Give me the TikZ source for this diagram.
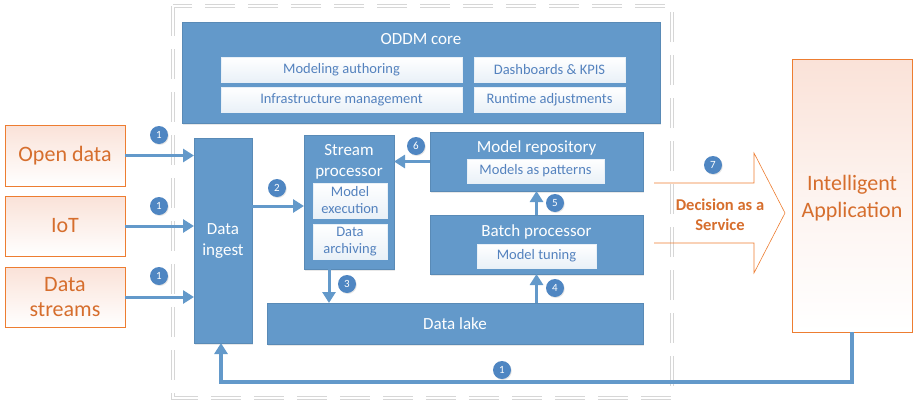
\documentclass[tikz,border=0pt]{standalone}
\usepackage{fontspec}
\setmainfont{Carlito}
\usetikzlibrary{positioning}
\usetikzlibrary{arrows.meta}
\usetikzlibrary{shadows}
\definecolor{myblue}{RGB}{99,153,202}
\definecolor{mybadge}{RGB}{79,134,194}
\definecolor{mytextblue}{RGB}{84,130,190}
\definecolor{myorange}{RGB}{237,125,49}
\definecolor{mytextorange}{RGB}{214,110,45}
\definecolor{mypink}{RGB}{250,226,216}
\definecolor{mygray}{RGB}{214,214,214}
\tikzset{
  >=latex,
  box/.style={anchor=north west,inner sep=0,outer sep=0},
  block/.style={box,fill=myblue,draw=myblue!90!black,line width=0.4pt,text=white,
    drop shadow={shadow xshift=1pt,shadow yshift=-1.5pt,opacity=0.18}},
  sub/.style={box,draw=white!85!myblue,line width=0.4pt,top color=white,bottom color=myblue!14,
    text=mytextblue,align=center,font=\fontsize{14.5}{17}\selectfont},
  source/.style={box,draw=myorange,line width=0.6pt,top color=mypink,bottom color=white,
    text=mytextorange,align=center,font=\fontsize{22}{25}\selectfont},
  title/.style={text=white,align=center,inner sep=0,font=\fontsize{17}{21}\selectfont},
  badge/.style={circle,fill=mybadge,text=white,minimum size=18pt,inner sep=0,
    font=\fontsize{11}{11}\selectfont,drop shadow={shadow xshift=0.8pt,shadow yshift=-1pt,opacity=0.2}},
  flow/.style={-{Triangle[length=11pt,width=13pt]},line width=3pt,myblue},
  frame/.style={draw=mygray,line width=0.7pt,double=white,double distance=2.2pt,
    dash pattern=on 30pt off 13pt}
}

\begin{document}
\begin{tikzpicture}[x=1pt,y=-1pt]
    \useasboundingbox (0,0) rectangle (913,402);

    % ------- frame -------
    \draw[frame] (173,6) rectangle (672,398);

    % ------- ODDM core -------
    \node[block,minimum width=478pt,minimum height=101pt] (core) at (182,22) {};
    \node[title,anchor=north] (core-title) at ([yshift=-11pt]core.north) {ODDM core};
    \node[sub,minimum width=241pt,minimum height=25pt] (authoring) at (221,57) {Modeling authoring};
    \node[sub,minimum width=151pt,minimum height=25pt] (dashboards) at (474,57) {Dashboards \& KPIS};
    \node[sub,minimum width=241pt,minimum height=25pt] (infra) at (221,87) {Infrastructure management};
    \node[sub,minimum width=151pt,minimum height=25pt] (runtime) at (474,87) {Runtime adjustments};

    % ------- sources -------
    \node[source,minimum width=120pt,minimum height=61pt] (open) at (5,125) {Open data};
    \node[source,minimum width=120pt,minimum height=60pt] (iot) at (5,196) {IoT};
    \node[source,minimum width=120pt,minimum height=60pt] (streams) at (5,267) {Data\\streams};

    % ------- processing -------
    \node[block,minimum width=58pt,minimum height=205pt] (ingest) at (194,138) {};
    \node[title] at ([yshift=-1pt]ingest.center) {Data\\ingest};

    \node[block,minimum width=90pt,minimum height=134pt] (stream) at (304,135) {};
    \node[title,anchor=north] (stream-title) at ([yshift=-9pt]stream.north) {Stream\\processor};
    \node[sub,minimum width=74pt,minimum height=35pt] (execution) at (313,183) {Model\\execution};
    \node[sub,minimum width=74pt,minimum height=35pt] (archiving) at (313,224) {Data\\archiving};

    \node[block,minimum width=213pt,minimum height=59pt] (repo) at (430,132) {};
    \node[title,anchor=north] (repo-title) at ([yshift=-8pt]repo.north) {Model repository};
    \node[sub,minimum width=137pt,minimum height=24pt] (patterns) at (467,159) {Models as patterns};

    \node[block,minimum width=213pt,minimum height=59pt] (batch) at (430,215) {};
    \node[title,anchor=north] (batch-title) at ([yshift=-9pt]batch.north) {Batch processor};
    \node[sub,minimum width=119pt,minimum height=24pt] (tuning) at (477,244) {Model tuning};

    \node[block,minimum width=376pt,minimum height=41pt] (lake) at (267,303) {};
    \node[title] at (lake.center) {Data lake};

    % ------- application -------
    \node[source,minimum width=120pt,minimum height=273pt,
        top color=mypink,bottom color=white,middle color=white!60!mypink] (app) at (792,59) {};
    \node[text=mytextorange,align=center,font=\fontsize{22}{27}\selectfont] at (852,198) {Intelligent\\Application};

    % ------- service arrow -------
    \draw[myorange,line width=0.6pt,line join=miter]
        (654,183) -- (754,183) -- (754,153) -- (785,213) -- (754,273) -- (754,243) -- (654,243);
    \node[text=mytextorange,align=center,font=\fontsize{16.5}{20}\selectfont\bfseries] (daas) at (720,215) {Decision as a\\Service};

    % ------- connectors -------
    \foreach \src in {open, iot, streams} {
        \draw[flow] (\src.east) -- (\src.east -| ingest.west);
    }
    \draw[flow] ([yshift=-4pt]stream.west -| ingest.east) -- ([yshift=-4pt]stream.west);
    \draw[flow] (repo.west) -- (repo.west -| stream.east);
    \draw[flow] ([xshift=-20pt]stream.south) -- ([xshift=-20pt]stream.south |- lake.north);
    \draw[flow] (batch.south |- lake.north) -- (batch.south);
    \draw[flow] (batch.north) -- (repo.south);
    \draw[flow,line width=3.5pt] (app.south) |- ([yshift=-39pt,xshift=-2pt]ingest.south) -- ([xshift=-2pt]ingest.south);

    % ------- badges -------
    \node[badge] (b-open) at (159,135) {1};
    \node[badge] (b-iot) at (159,206) {1};
    \node[badge] (b-streams) at (159,276) {1};
    \node[badge] (b-ingest) at (277,188) {2};
    \node[badge] (b-lake) at (347,284) {3};
    \node[badge] (b-batch) at (555,288) {4};
    \node[badge] (b-repo) at (555,203) {5};
    \node[badge] (b-stream) at (416,146) {6};
    \node[badge] (b-service) at (713,165) {7};
    \node[badge] (b-loop) at (502,370) {1};
\end{tikzpicture}
\end{document}
